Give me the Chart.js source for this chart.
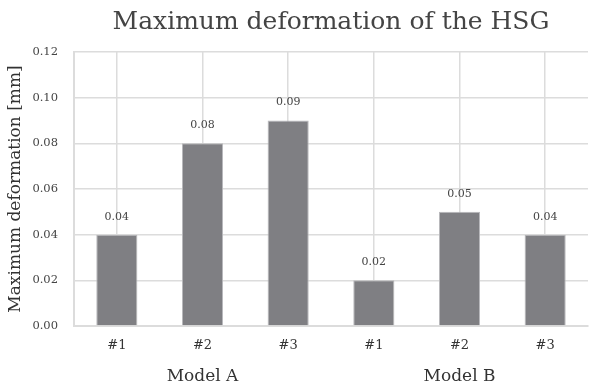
<!DOCTYPE html>
<html>
<head>
<meta charset="utf-8">
<script src="https://cdn.jsdelivr.net/npm/chart.js@4.4.1/dist/chart.umd.min.js"></script>
<style>
  html, body { margin: 0; padding: 0; background: #fff; }
  #wrap { width: 589px; height: 390px; }
</style>
</head>
<body>
<div id="wrap"><canvas id="deformChart"></canvas></div>
<script>
// Chart data
const sampleLabels = ['#1', '#2', '#3', '#1', '#2', '#3'];
const modelLabels = ['Model A', 'Model B'];
const maxDeformation = [0.04, 0.08, 0.09, 0.02, 0.05, 0.04];
const yTicks = [0, 0.02, 0.04, 0.06, 0.08, 0.10, 0.12];

const serif = 'DejaVu Serif';
const gridColor = '#dcdcdc';

// Value labels above each bar
const valueLabels = {
  id: 'valueLabels',
  afterDatasetsDraw(chart) {
    const { ctx } = chart;
    const meta = chart.getDatasetMeta(0);
    ctx.save();
    ctx.font = `11px "${serif}"`;
    ctx.fillStyle = '#444';
    ctx.textAlign = 'center';
    ctx.textBaseline = 'middle';
    meta.data.forEach((bar, i) => {
      ctx.fillText(maxDeformation[i].toFixed(2), bar.x, bar.y - 18);
    });
    ctx.restore();
  },
};

const config = {
  type: 'bar',
  data: {
    labels: sampleLabels,
    datasets: [
      {
        label: 'Maximum deformation',
        data: maxDeformation,
        backgroundColor: '#7f7f83',
        borderColor: '#b8b8bb',
        borderWidth: 1,
        barPercentage: 0.48,
        categoryPercentage: 1,
      },
    ],
  },
  options: {
    responsive: true,
    maintainAspectRatio: false,
    animation: false,
    layout: { padding: { top: 4, right: 1, left: 2, bottom: 2 } },
    plugins: {
      legend: { display: false },
      tooltip: { enabled: false },
      title: {
        display: true,
        fullSize: false,
        text: 'Maximum deformation of the HSG',
        color: '#444',
        font: { family: serif, size: 25, weight: 'normal' },
        padding: { top: 3, bottom: 15 },
      },
    },
    scales: {
      x: {
        type: 'category',
        offset: true,
        grid: { color: gridColor, lineWidth: 1.5, offset: false, drawTicks: false },
        border: { color: gridColor, width: 2 },
        ticks: {
          color: '#333',
          padding: 12,
          font: { family: serif, size: 13 },
        },
      },
      x2: {
        type: 'category',
        labels: modelLabels,
        position: 'bottom',
        offset: true,
        grid: { display: false, drawTicks: false },
        border: { display: false },
        ticks: {
          color: '#333',
          padding: 1,
          font: { family: serif, size: 17 },
        },
      },
      y: {
        min: 0,
        max: 0.12,
        afterBuildTicks(axis) {
          axis.ticks = yTicks.map((v) => ({ value: v }));
        },
        afterFit(axis) {
          axis.width = 72;
        },
        grid: { color: gridColor, lineWidth: 1.5, drawTicks: false },
        border: { color: gridColor, width: 2 },
        ticks: {
          color: '#444',
          padding: 16,
          font: { family: serif, size: 11.5 },
          callback: (v) => Number(v).toFixed(2),
        },
        title: {
          display: true,
          text: 'Maximum deformation [mm]',
          color: '#333',
          font: { family: serif, size: 17 },
          padding: { top: 3, bottom: 4 },
        },
      },
    },
  },
  plugins: [valueLabels],
};

new Chart(document.getElementById('deformChart'), config);
</script>
</body>
</html>
